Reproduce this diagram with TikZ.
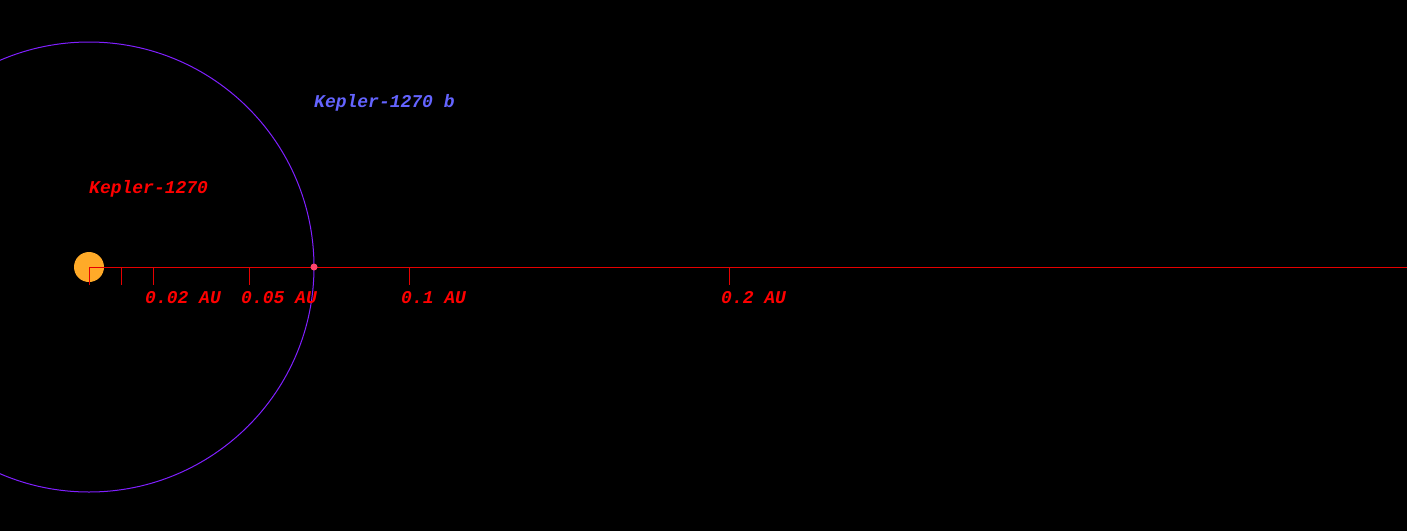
\documentclass[tikz,border=0pt]{standalone}
\usepackage{fontspec}
\newfontfamily\monofont{Liberation Mono}
\definecolor{starcol}{RGB}{255,170,40}
\definecolor{orbitcol}{RGB}{128,32,255}
\definecolor{axiscol}{RGB}{230,0,0}
\definecolor{labred}{RGB}{255,0,0}
\definecolor{planetlab}{RGB}{100,100,255}
\definecolor{planetcol}{RGB}{255,70,110}
\tikzset{
  axisline/.style={draw=axiscol, line width=1pt},
  ticklab/.style={anchor=base west, inner sep=0pt, text=labred, font=\monofont\bfseries\itshape\fontsize{18}{18}\selectfont},
  namelab/.style={anchor=base west, inner sep=0pt, font=\monofont\bfseries\itshape\fontsize{18}{18}\selectfont}
}
\begin{document}
\begin{tikzpicture}[x=1pt,y=-1pt]
\fill[black] (0,0) rectangle (1407,531);
\useasboundingbox (0,0) rectangle (1407,531);
% orbit
\draw[orbitcol, line width=1pt] (89,267) circle[radius=225];
% star
\node[circle, fill=starcol, minimum size=30pt, inner sep=0pt] (star) at (89,267) {};
% axis
\coordinate (a0) at (89,267);
\coordinate (aend) at (1407,267);
\draw[axisline] (a0) -- (aend);
\foreach \x/\n in {89/t0,121/t1,153/t2,249/t5,409/t10,729/t20}{
  \coordinate (\n) at (\x,267);
  \draw[axisline] (\n) -- ++(0,18);
}
\node[ticklab] (l2) at (145,303) {0.02 AU};
\node[ticklab] (l5) at (241,303) {0.05 AU};
\node[ticklab] (l10) at (401,303) {0.1 AU};
\node[ticklab] (l20) at (721,303) {0.2 AU};
% planet
\node[circle, fill=planetcol, minimum size=7pt, inner sep=0pt] (planet) at (314,267) {};
% names
\node[namelab, text=labred] (starname) at (89,193) {Kepler-1270};
\node[namelab, text=planetlab] (planetname) at (314,107) {Kepler-1270 b};
\end{tikzpicture}
\end{document}
